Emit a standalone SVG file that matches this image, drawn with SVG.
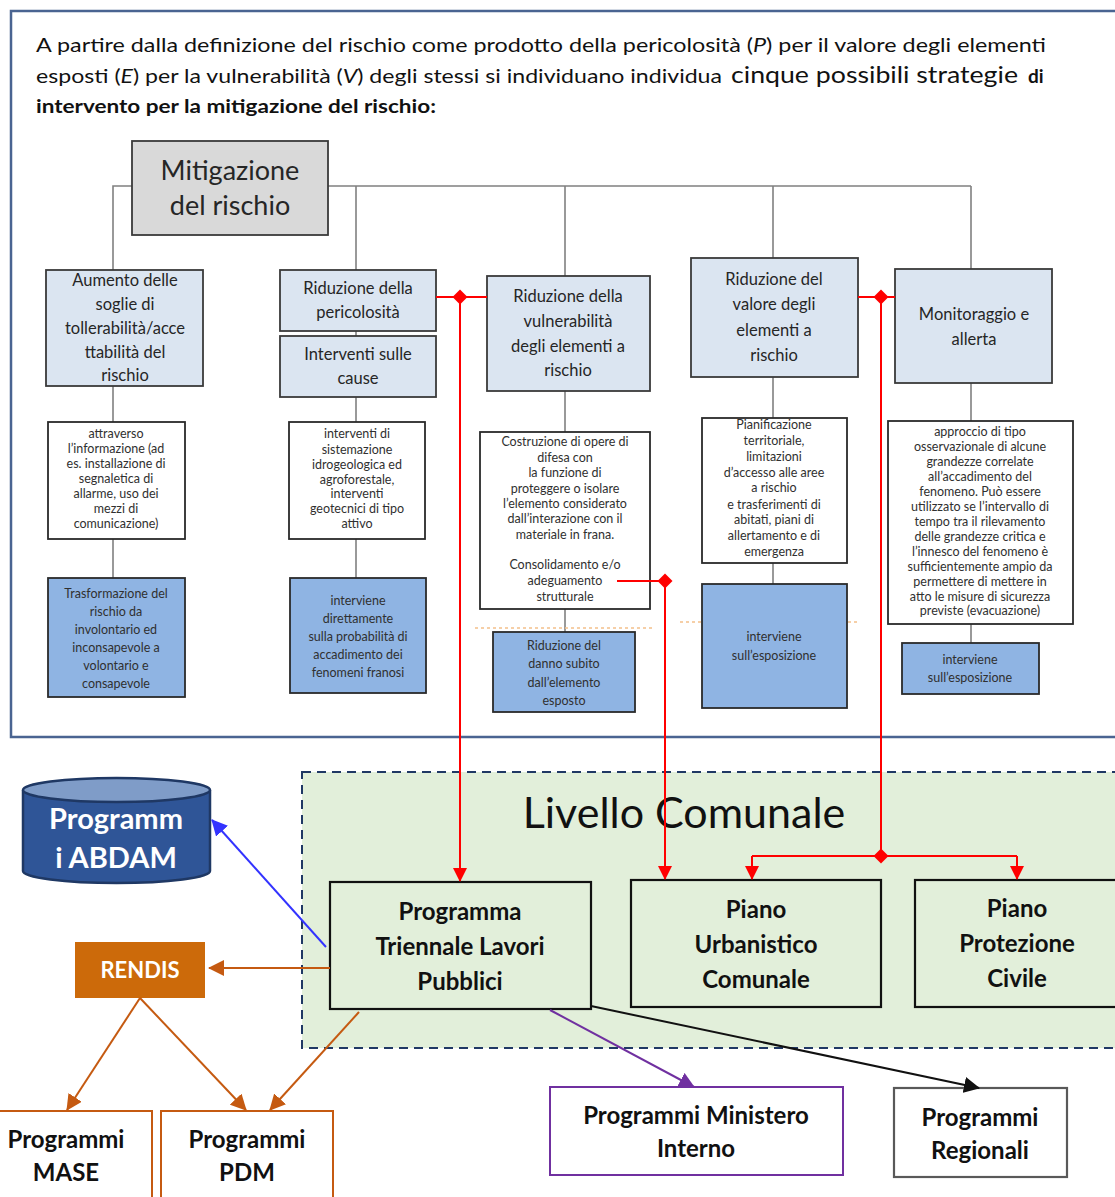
<svg xmlns="http://www.w3.org/2000/svg" width="1115" height="1197" viewBox="0 0 1115 1197">
  <defs>
    <style>
      .para { font-family: Lato, "Open Sans", "Liberation Sans", sans-serif; font-size: 19px; fill: #111; }
      .big { font-size: 24px; }
      .bold { font-weight: bold; }
      .lvl1 { fill: #dbe5f1; stroke: #3a3a3a; stroke-width: 1.8; }
      .note { fill: #ffffff; stroke: #2a2a2a; stroke-width: 1.8; }
      .eff { fill: #8fb4e3; stroke: #2a2a2a; stroke-width: 1.8; }
      .t17 { font-family: Lato, "Open Sans", "Liberation Sans", sans-serif; font-size: 16.5px; fill: #262626; text-anchor: middle; }
      .t26 { font-family: Lato, "Open Sans", "Liberation Sans", sans-serif; font-size: 27px; fill: #262626; text-anchor: middle; }
      .t13 { font-family: Lato, "Open Sans", "Liberation Sans", sans-serif; font-size: 12.5px; fill: #303030; text-anchor: middle; }
      .tree { fill: none; stroke: #808080; stroke-width: 1.6; }
      .red { fill: none; stroke: #ff0000; stroke-width: 2; }
      .grp { fill: #e2efda; stroke: #203864; stroke-width: 2; stroke-dasharray: 9 6; }
      .mun { fill: #e2efda; stroke: #111; stroke-width: 2.2; }
      .tb { font-family: Lato, "Open Sans", "Liberation Sans", sans-serif; font-weight: bold; font-size: 24px; fill: #111; text-anchor: middle; }
      .tw { font-family: Lato, "Open Sans", "Liberation Sans", sans-serif; font-weight: bold; fill: #ffffff; text-anchor: middle; }
      .hint { fill: none; stroke: #f4c08a; stroke-width: 1.4; stroke-dasharray: 3 3; }
    </style>
    <marker id="ahRed" viewBox="0 0 14 14" refX="13" refY="7" markerWidth="14" markerHeight="14" markerUnits="userSpaceOnUse" orient="auto">
      <path d="M0,0 L14,7 L0,14 z" fill="#ff0000"/>
    </marker>
    <marker id="ahOrange" viewBox="0 0 16 16" refX="15" refY="8" markerWidth="16" markerHeight="16" markerUnits="userSpaceOnUse" orient="auto">
      <path d="M0,0 L16,8 L0,16 z" fill="#c55a11"/>
    </marker>
    <marker id="ahBlue" viewBox="0 0 16 16" refX="15" refY="8" markerWidth="16" markerHeight="16" markerUnits="userSpaceOnUse" orient="auto">
      <path d="M0,0 L16,8 L0,16 z" fill="#3333ff"/>
    </marker>
    <marker id="ahPurple" viewBox="0 0 16 16" refX="15" refY="8" markerWidth="16" markerHeight="16" markerUnits="userSpaceOnUse" orient="auto">
      <path d="M0,0 L16,8 L0,16 z" fill="#7030a0"/>
    </marker>
    <marker id="ahBlack" viewBox="0 0 16 16" refX="15" refY="8" markerWidth="16" markerHeight="16" markerUnits="userSpaceOnUse" orient="auto">
      <path d="M0,0 L16,8 L0,16 z" fill="#111"/>
    </marker>
    <path id="dia" d="M0,-7.5 L7.5,0 L0,7.5 L-7.5,0 z" fill="#ff0000"/>
  </defs>

  <rect width="1115" height="1197" fill="#ffffff"/>

  <!-- framed strategy panel -->
  <path d="M1115,11 H11 V737 H1115" fill="none" stroke="#4a6491" stroke-width="2.5"/>

  <g id="intro">
    <text class="para" x="36" y="52" textLength="1010" lengthAdjust="spacingAndGlyphs">A partire dalla definizione del rischio come prodotto della pericolosità (<tspan font-style="italic">P</tspan>) per il valore degli elementi</text>
    <text class="para" x="36" y="83" textLength="686" lengthAdjust="spacingAndGlyphs">esposti (<tspan font-style="italic">E</tspan>) per la vulnerabilità (<tspan font-style="italic">V</tspan>) degli stessi si individuano individua</text>
    <text class="para big" x="731" y="83" textLength="287" lengthAdjust="spacingAndGlyphs">cinque possibili strategie</text>
    <text class="para bold" x="1028" y="83">di</text>
    <text class="para bold" x="36" y="113" textLength="400" lengthAdjust="spacingAndGlyphs">intervento per la mitigazione del rischio:</text>
  </g>

  <!-- tree lines -->
  <g id="tree">
    <path class="tree" d="M132,186 H113 V270 M328,186 H971 M356,186 V270 M565,186 V276 M773,186 V258 M971,186 V269"/>
    <path class="tree" d="M113,386 V422 M113,539 V578"/>
    <path class="tree" d="M356,331 V336 M356,397 V422 M356,539 V578"/>
    <path class="tree" d="M565,391 V432 M565,609 V632"/>
    <path class="tree" d="M773,377 V418 M773,563 V584"/>
    <path class="tree" d="M971,383 V421 M971,624 V643"/>
    <path class="hint" d="M475,628 H655 M680,622 H860"/>
  </g>

  <g id="root">
    <rect x="132" y="141" width="196" height="94" fill="#d9d9d9" stroke="#3a3a3a" stroke-width="1.8"/>
    <text class="t26" x="230" y="180">Mitigazione</text>
    <text class="t26" x="230" y="215">del rischio</text>
  </g>

  <!-- column 1 -->
  <g id="s1">
    <rect class="lvl1" x="46" y="270" width="157" height="116"/>
    <text class="t17" x="125" y="286">Aumento delle</text>
    <text class="t17" x="125" y="310">soglie di</text>
    <text class="t17" x="125" y="334">tollerabilità/acce</text>
    <text class="t17" x="125" y="358">ttabilità del</text>
    <text class="t17" x="125" y="381">rischio</text>
  </g>
  <g id="s1note">
    <rect class="note" x="48" y="422" width="137" height="117"/>
    <text class="t13" x="116" y="438">attraverso</text>
    <text class="t13" x="116" y="453">l’informazione (ad</text>
    <text class="t13" x="116" y="468">es. installazione di</text>
    <text class="t13" x="116" y="483">segnaletica di</text>
    <text class="t13" x="116" y="498">allarme, uso dei</text>
    <text class="t13" x="116" y="513">mezzi di</text>
    <text class="t13" x="116" y="528">comunicazione)</text>
  </g>
  <g id="s1eff">
    <rect class="eff" x="48" y="578" width="137" height="119"/>
    <text class="t13" x="116" y="598">Trasformazione del</text>
    <text class="t13" x="116" y="616">rischio da</text>
    <text class="t13" x="116" y="634">involontario ed</text>
    <text class="t13" x="116" y="652">inconsapevole a</text>
    <text class="t13" x="116" y="670">volontario e</text>
    <text class="t13" x="116" y="688">consapevole</text>
  </g>

  <!-- column 2 -->
  <g id="s2">
    <rect class="lvl1" x="280" y="270" width="156" height="61"/>
    <text class="t17" x="358" y="294">Riduzione della</text>
    <text class="t17" x="358" y="318">pericolosità</text>
  </g>
  <g id="s2b">
    <rect class="lvl1" x="280" y="336" width="156" height="61"/>
    <text class="t17" x="358" y="360">Interventi sulle</text>
    <text class="t17" x="358" y="384">cause</text>
  </g>
  <g id="s2note">
    <rect class="note" x="289" y="422" width="136" height="117"/>
    <text class="t13" x="357" y="438">interventi di</text>
    <text class="t13" x="357" y="454">sistemazione</text>
    <text class="t13" x="357" y="469">idrogeologica ed</text>
    <text class="t13" x="357" y="484">agroforestale,</text>
    <text class="t13" x="357" y="498">interventi</text>
    <text class="t13" x="357" y="513">geotecnici di tipo</text>
    <text class="t13" x="357" y="528">attivo</text>
  </g>
  <g id="s2eff">
    <rect class="eff" x="290" y="578" width="136" height="115"/>
    <text class="t13" x="358" y="605">interviene</text>
    <text class="t13" x="358" y="623">direttamente</text>
    <text class="t13" x="358" y="641">sulla probabilità di</text>
    <text class="t13" x="358" y="659">accadimento dei</text>
    <text class="t13" x="358" y="677">fenomeni franosi</text>
  </g>

  <!-- column 3 -->
  <g id="s3">
    <rect class="lvl1" x="487" y="276" width="163" height="115"/>
    <text class="t17" x="568" y="302">Riduzione della</text>
    <text class="t17" x="568" y="327">vulnerabilità</text>
    <text class="t17" x="568" y="352">degli elementi a</text>
    <text class="t17" x="568" y="376">rischio</text>
  </g>
  <g id="s3note">
    <rect class="note" x="480" y="432" width="170" height="177"/>
    <text class="t13" x="565" y="446">Costruzione di opere di</text>
    <text class="t13" x="565" y="462">difesa con</text>
    <text class="t13" x="565" y="477">la funzione di</text>
    <text class="t13" x="565" y="493">proteggere o isolare</text>
    <text class="t13" x="565" y="508">l’elemento considerato</text>
    <text class="t13" x="565" y="523">dall’interazione con il</text>
    <text class="t13" x="565" y="539">materiale in frana.</text>
    <text class="t13" x="565" y="569">Consolidamento e/o</text>
    <text class="t13" x="565" y="585">adeguamento</text>
    <text class="t13" x="565" y="601">strutturale</text>
  </g>
  <g id="s3eff">
    <rect class="eff" x="493" y="632" width="142" height="80"/>
    <text class="t13" x="564" y="650">Riduzione del</text>
    <text class="t13" x="564" y="668">danno subito</text>
    <text class="t13" x="564" y="687">dall’elemento</text>
    <text class="t13" x="564" y="705">esposto</text>
  </g>

  <!-- column 4 -->
  <g id="s4">
    <rect class="lvl1" x="691" y="258" width="167" height="119"/>
    <text class="t17" x="774" y="285">Riduzione del</text>
    <text class="t17" x="774" y="310">valore degli</text>
    <text class="t17" x="774" y="336">elementi a</text>
    <text class="t17" x="774" y="361">rischio</text>
  </g>
  <g id="s4note">
    <rect class="note" x="702" y="418" width="145" height="145"/>
    <text class="t13" x="774" y="429">Pianificazione</text>
    <text class="t13" x="774" y="445">territoriale,</text>
    <text class="t13" x="774" y="461">limitazioni</text>
    <text class="t13" x="774" y="477">d’accesso alle aree</text>
    <text class="t13" x="774" y="492">a rischio</text>
    <text class="t13" x="774" y="509">e trasferimenti di</text>
    <text class="t13" x="774" y="524">abitati, piani di</text>
    <text class="t13" x="774" y="540">allertamento e di</text>
    <text class="t13" x="774" y="556">emergenza</text>
  </g>
  <g id="s4eff">
    <rect class="eff" x="702" y="584" width="145" height="124"/>
    <text class="t13" x="774" y="641">interviene</text>
    <text class="t13" x="774" y="660">sull’esposizione</text>
  </g>

  <!-- column 5 -->
  <g id="s5">
    <rect class="lvl1" x="895" y="269" width="157" height="114"/>
    <text class="t17" x="974" y="320">Monitoraggio e</text>
    <text class="t17" x="974" y="345">allerta</text>
  </g>
  <g id="s5note">
    <rect class="note" x="888" y="421" width="185" height="203"/>
    <text class="t13" x="980" y="436">approccio di tipo</text>
    <text class="t13" x="980" y="451">osservazionale di alcune</text>
    <text class="t13" x="980" y="466">grandezze correlate</text>
    <text class="t13" x="980" y="481">all’accadimento del</text>
    <text class="t13" x="980" y="496">fenomeno. Può essere</text>
    <text class="t13" x="980" y="511">utilizzato se l’intervallo di</text>
    <text class="t13" x="980" y="526">tempo tra il rilevamento</text>
    <text class="t13" x="980" y="541">delle grandezze critica e</text>
    <text class="t13" x="980" y="556">l’innesco del fenomeno è</text>
    <text class="t13" x="980" y="571">sufficientemente ampio da</text>
    <text class="t13" x="980" y="586">permettere di mettere in</text>
    <text class="t13" x="980" y="601">atto le misure di sicurezza</text>
    <text class="t13" x="980" y="615">previste (evacuazione)</text>
  </g>
  <g id="s5eff">
    <rect class="eff" x="902" y="643" width="137" height="51"/>
    <text class="t13" x="970" y="664">interviene</text>
    <text class="t13" x="970" y="682">sull’esposizione</text>
  </g>

  <!-- municipal level -->
  <g id="livello">
    <rect class="grp" x="302" y="772" width="830" height="276"/>
    <text x="684" y="828" font-family="Lato, 'Open Sans', 'Liberation Sans', sans-serif" font-size="43" fill="#111" text-anchor="middle">Livello Comunale</text>
  </g>

  <g id="ptlp">
    <rect class="mun" x="330" y="882" width="261" height="127"/>
    <text class="tb" x="460" y="920">Programma</text>
    <text class="tb" x="460" y="955">Triennale Lavori</text>
    <text class="tb" x="460" y="990">Pubblici</text>
  </g>
  <g id="puc">
    <rect class="mun" x="631" y="880" width="250" height="127"/>
    <text class="tb" x="756" y="918">Piano</text>
    <text class="tb" x="756" y="953">Urbanistico</text>
    <text class="tb" x="756" y="988">Comunale</text>
  </g>
  <g id="ppc">
    <rect class="mun" x="915" y="880" width="210" height="127"/>
    <text class="tb" x="1017" y="917">Piano</text>
    <text class="tb" x="1017" y="952">Protezione</text>
    <text class="tb" x="1017" y="987">Civile</text>
  </g>

  <g id="abdam">
    <path d="M23,790 V871 A93.5,12 0 0 0 210,871 V790" fill="#2f5597" stroke="#1f3864" stroke-width="2.5"/>
    <ellipse cx="116.5" cy="790" rx="93.5" ry="12" fill="#7f9cc8" stroke="#1f3864" stroke-width="2.5"/>
    <text class="tw" x="116" y="829" font-size="29">Programm</text>
    <text class="tw" x="116" y="868" font-size="29">i ABDAM</text>
  </g>

  <g id="rendis">
    <rect x="75" y="942" width="130" height="56" fill="#cc6a0a"/>
    <text class="tw" x="140" y="978" font-size="22">RENDIS</text>
  </g>

  <g id="mase">
    <rect x="-2" y="1111" width="154" height="100" fill="#ffffff" stroke="#c55a11" stroke-width="2"/>
    <text class="tb" x="66" y="1148">Programmi</text>
    <text class="tb" x="66" y="1181">MASE</text>
  </g>
  <g id="pdm">
    <rect x="161" y="1111" width="172" height="100" fill="#ffffff" stroke="#c55a11" stroke-width="2"/>
    <text class="tb" x="247" y="1148">Programmi</text>
    <text class="tb" x="247" y="1181">PDM</text>
  </g>
  <g id="mininterno">
    <rect x="550" y="1087" width="293" height="88" fill="#ffffff" stroke="#7030a0" stroke-width="2"/>
    <text class="tb" x="696" y="1124">Programmi Ministero</text>
    <text class="tb" x="696" y="1157">Interno</text>
  </g>
  <g id="regionali">
    <rect x="894" y="1088" width="173" height="89" fill="#ffffff" stroke="#595959" stroke-width="2.2"/>
    <text class="tb" x="980" y="1126">Programmi</text>
    <text class="tb" x="980" y="1159">Regionali</text>
  </g>

  <!-- connectors -->
  <g id="connectors">
    <path class="red" d="M436,297 H487"/>
    <path class="red" d="M460,297 V881" marker-end="url(#ahRed)"/>
    <use href="#dia" x="460" y="297"/>

    <path class="red" d="M617,581 H665"/>
    <path class="red" d="M665,581 V879" marker-end="url(#ahRed)"/>
    <use href="#dia" x="665" y="581"/>

    <path class="red" d="M858,297 H895"/>
    <path class="red" d="M881,297 V856"/>
    <path class="red" d="M752,856 H1017"/>
    <path class="red" d="M752,856 V879" marker-end="url(#ahRed)"/>
    <path class="red" d="M1017,856 V879" marker-end="url(#ahRed)"/>
    <use href="#dia" x="881" y="297"/>
    <use href="#dia" x="881" y="856"/>

    <path d="M326,947 L212,820" fill="none" stroke="#3333ff" stroke-width="2" marker-end="url(#ahBlue)"/>
    <path d="M330,968 H209" fill="none" stroke="#c55a11" stroke-width="2" marker-end="url(#ahOrange)"/>
    <path d="M140,998 L67,1110" fill="none" stroke="#c55a11" stroke-width="2" marker-end="url(#ahOrange)"/>
    <path d="M140,998 L246,1110" fill="none" stroke="#c55a11" stroke-width="2" marker-end="url(#ahOrange)"/>
    <path d="M359,1012 L270,1110" fill="none" stroke="#c55a11" stroke-width="2" marker-end="url(#ahOrange)"/>
    <path d="M550,1010 L694,1087" fill="none" stroke="#7030a0" stroke-width="2" marker-end="url(#ahPurple)"/>
    <path d="M591,1006 L979,1088" fill="none" stroke="#111" stroke-width="2" marker-end="url(#ahBlack)"/>
  </g>
</svg>
